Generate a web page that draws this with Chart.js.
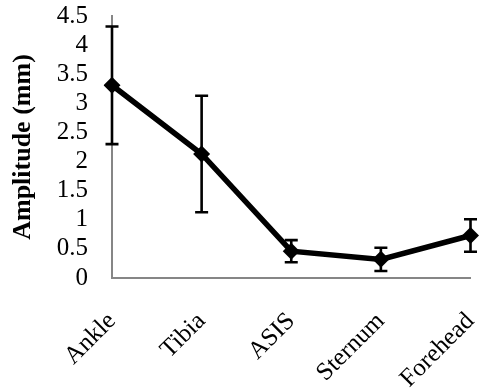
<!DOCTYPE html>
<html>
<head>
<meta charset="utf-8">
<script src="https://cdn.jsdelivr.net/npm/chart.js@4.4.1/dist/chart.umd.min.js"></script>
<style>
html,body{margin:0;padding:0;background:#fff;}
#wrap{width:479px;height:389px;position:relative;}
#probe{position:absolute;left:-9999px;top:0;font-family:'Liberation Serif','Times New Roman',serif;font-size:24px;}
</style>
</head>
<body>
<div id="probe">Amplitude <b>Amplitude</b> 0.5</div>
<div id="wrap"><canvas id="c" width="479" height="389"></canvas></div>
<script>
const categories = ['Ankle', 'Tibia', 'ASIS', 'Sternum', 'Forehead'];
const amplitude = [3.31, 2.13, 0.46, 0.32, 0.73];
const errorValues = [1.01, 1.0, 0.19, 0.2, 0.28];
const yTicks = [0, 0.5, 1, 1.5, 2, 2.5, 3, 3.5, 4, 4.5];

const FAMILY = "'Liberation Serif', 'Times New Roman', Times, serif";

const errorBarPlugin = {
  id: 'errorBars',
  beforeDatasetsDraw(chart) {
    const ctx = chart.ctx;
    const xs = chart.scales.x, ys = chart.scales.y;
    ctx.save();
    ctx.strokeStyle = '#000';
    ctx.lineWidth = 2.6;
    amplitude.forEach((v, i) => {
      const x = xs.getPixelForValue(i);
      const yt = ys.getPixelForValue(v + errorValues[i]);
      const yb = ys.getPixelForValue(v - errorValues[i]);
      ctx.beginPath();
      ctx.moveTo(x, yt); ctx.lineTo(x, yb);
      ctx.moveTo(x - 6.5, yt); ctx.lineTo(x + 6.5, yt);
      ctx.moveTo(x - 6.5, yb); ctx.lineTo(x + 6.5, yb);
      ctx.stroke();
    });
    ctx.restore();
  }
};

function draw() {
  new Chart(document.getElementById('c'), {
    type: 'line',
    data: {
      labels: categories,
      datasets: [{
        data: amplitude,
        borderColor: '#000',
        backgroundColor: '#000',
        borderWidth: 5.5,
        pointStyle: 'rectRot',
        pointRadius: 8.5,
        pointBorderWidth: 0,
        tension: 0
      }]
    },
    options: {
      responsive: false,
      animation: false,
      events: [],
      layout: { padding: { left: 0, right: 8, top: 16, bottom: 0 } },
      plugins: { legend: { display: false }, tooltip: { enabled: false } },
      scales: {
        x: {
          offset: false,
          grid: { display: false, drawTicks: false },
          border: { display: true, color: '#868686', width: 2 },
          ticks: {
            color: '#000',
            font: { family: FAMILY, size: 25, lineHeight: 0.6 },
            maxRotation: 45, minRotation: 45,
            autoSkip: false,
            padding: 34
          },
          afterFit(scale) { scale.paddingLeft = 0; scale.paddingRight = 0; scale.height = 111; }
        },
        y: {
          min: 0, max: 4.5,
          afterBuildTicks(scale) { scale.ticks = yTicks.map(v => ({ value: v })); },
          grid: { display: false, drawTicks: false },
          border: { display: true, color: '#868686', width: 2 },
          ticks: {
            color: '#000',
            autoSkip: false,
            font: { family: FAMILY, size: 25 },
            padding: 24,
            callback: (v) => String(v)
          },
          title: {
            display: true,
            text: 'Amplitude (mm)',
            color: '#000',
            font: { family: FAMILY, size: 26, weight: 'bold' },
            padding: { top: 8, bottom: 0 }
          },
          afterFit(scale) { scale.paddingTop = 0; scale.paddingBottom = 0; scale.width = 112; }
        }
      }
    },
    plugins: [errorBarPlugin]
  });
}

if (document.fonts && document.fonts.load) {
  Promise.all([
    document.fonts.load("25px 'Liberation Serif'"),
    document.fonts.load("bold 26px 'Liberation Serif'")
  ]).then(draw, draw);
} else { draw(); }
</script>
</body>
</html>
